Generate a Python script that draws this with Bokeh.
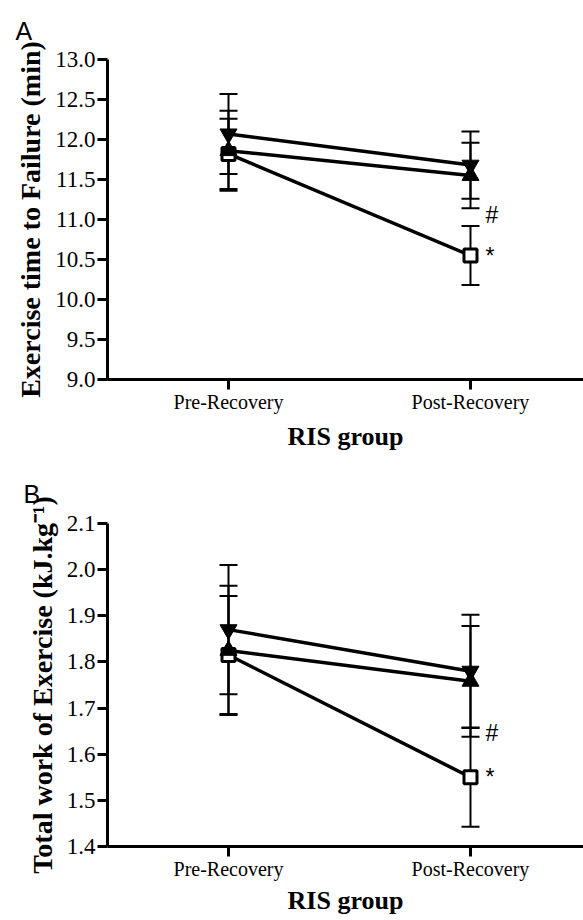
from bokeh.plotting import figure
from bokeh.models import (FixedTicker, Whisker, TeeHead, ColumnDataSource,
                          NumeralTickFormatter, Range1d)
from bokeh.layouts import column
from bokeh.core.properties import value
from bokeh.embed import file_html
from bokeh.resources import INLINE

# ---------------- data ----------------
x_pos = [0, 1]
x_labels = ["Pre-Recovery", "Post-Recovery"]
x_title = "RIS group"

# Panel A: exercise time to failure (min)
a_down_mean = [12.07, 11.68]
a_down_err = [0.50, 0.42]
a_up_mean = [11.86, 11.55]
a_up_err = [0.50, 0.41]
a_sq_mean = [11.82, 10.55]
a_sq_err = [0.44, 0.37]
a_yticks = [9.0, 9.5, 10.0, 10.5, 11.0, 11.5, 12.0, 12.5, 13.0]
a_ylabel = "Exercise time to Failure (min)"
a_hash_y = 11.06

# Panel B: total work of exercise (kJ.kg-1)
b_down_mean = [1.870, 1.780]
b_down_err = [0.140, 0.122]
b_up_mean = [1.825, 1.758]
b_up_err = [0.140, 0.120]
b_sq_mean = [1.815, 1.550]
b_sq_err = [0.128, 0.107]
b_yticks = [1.4, 1.5, 1.6, 1.7, 1.8, 1.9, 2.0, 2.1]
b_ylabel = "Total work of Exercise (kJ.kg\u207b\u00b9)"
b_hash_y = 1.645

SERIF = "Liberation Serif"
SANS = "Liberation Sans"


def make_panel(letter, down_m, down_e, up_m, up_e, sq_m, sq_e, yticks, ylabel,
               hash_y, height, left, top, bottom, title_off, title_standoff,
               xlabel_standoff):
    p = figure(width=583, height=height, output_backend="svg", toolbar_location=None,
               x_range=Range1d(-0.5, 1.467), y_range=Range1d(yticks[0], yticks[-1]),
               min_border_left=left, min_border_right=0, min_border_top=top,
               min_border_bottom=bottom)
    p.outline_line_color = None
    p.xgrid.visible = False
    p.ygrid.visible = False
    p.background_fill_color = "white"

    # panel letter as title
    p.title.text = letter
    p.title.align = "left"
    p.title.offset = title_off
    p.title.standoff = title_standoff
    p.title.text_font = SANS
    p.title.text_font_style = "normal"
    p.title.text_font_size = "25px"
    p.title.text_color = "black"

    # error bars
    for m, e in ((sq_m, sq_e), (up_m, up_e), (down_m, down_e)):
        src = ColumnDataSource(dict(x=x_pos, lo=[a - b for a, b in zip(m, e)],
                                    hi=[a + b for a, b in zip(m, e)]))
        w = Whisker(base="x", lower="lo", upper="hi", source=src,
                    line_color="black", line_width=2,
                    upper_head=TeeHead(size=18, line_width=2, line_color="black"),
                    lower_head=TeeHead(size=18, line_width=2, line_color="black"),
                    level="underlay")
        p.add_layout(w)

    # connecting lines
    for m in (sq_m, up_m, down_m):
        p.line(x_pos, m, line_color="black", line_width=3.5)

    # markers
    p.scatter(x_pos, sq_m, marker="square", size=13, fill_color="white",
              line_color="black", line_width=3)
    p.scatter(x_pos, up_m, marker="triangle", size=17, fill_color="black",
              line_color="black", line_width=1)
    p.scatter(x_pos, down_m, marker="inverted_triangle", size=17, fill_color="black",
              line_color="black", line_width=1)

    # significance marks
    p.text(x=[x_pos[1], x_pos[1]], y=[hash_y, sq_m[1]], text=["#", "*"],
           x_offset=15, text_font=value(SANS), text_font_size="23px",
           text_baseline="middle", text_align="left", text_color="black")

    # axes
    for ax in (p.xaxis[0], p.yaxis[0]):
        ax.axis_line_width = 3
        ax.axis_line_color = "black"
        ax.major_tick_line_width = 3
        ax.major_tick_line_color = "black"
        ax.major_tick_out = 10
        ax.major_tick_in = 0
        ax.minor_tick_line_color = None
        ax.major_label_text_font = SERIF
        ax.major_label_text_color = "black"
        ax.axis_label_text_font = SERIF
        ax.axis_label_text_font_style = "bold"
        ax.axis_label_text_color = "black"

    p.xaxis.ticker = FixedTicker(ticks=x_pos)
    p.xaxis.major_label_overrides = {x: l for x, l in zip(x_pos, x_labels)}
    p.xaxis.major_label_text_font_size = "20px"
    p.xaxis.major_label_standoff = 1
    p.xaxis.axis_label = x_title
    p.xaxis.axis_label_text_font_size = "26px"
    p.xaxis.axis_label_standoff = xlabel_standoff

    p.yaxis.ticker = FixedTicker(ticks=yticks)
    p.yaxis.formatter = NumeralTickFormatter(format="0.0")
    p.yaxis.major_label_text_font_size = "23px"
    p.yaxis.major_label_standoff = 2
    p.yaxis.axis_label = ylabel
    p.yaxis.axis_label_text_font_size = "28px"
    p.yaxis.axis_label_standoff = 6
    return p


pa = make_panel("A", a_down_mean, a_down_err, a_up_mean, a_up_err, a_sq_mean, a_sq_err,
                a_yticks, a_ylabel, a_hash_y, height=455, left=107, top=57, bottom=76,
                title_off=-92, title_standoff=29, xlabel_standoff=6)
pb = make_panel("B", b_down_mean, b_down_err, b_up_mean, b_up_err, b_sq_mean, b_sq_err,
                b_yticks, b_ylabel, b_hash_y, height=465, left=101, top=68, bottom=74,
                title_off=-84, title_standoff=31, xlabel_standoff=3)

layout = column(pa, pb, spacing=0)
open("out.html", "w").write(file_html(layout, INLINE))
